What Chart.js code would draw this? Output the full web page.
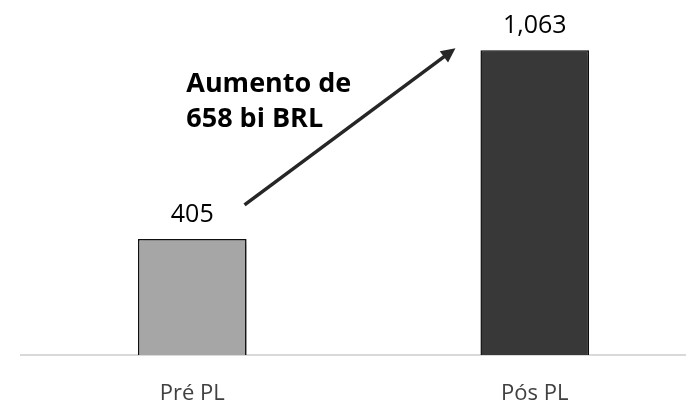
<!DOCTYPE html>
<html>
<head>
<meta charset="utf-8">
<script src="https://cdn.jsdelivr.net/npm/chart.js@4"></script>
<style>
  html, body { margin: 0; padding: 0; background: #fff; }
  #wrap { width: 686px; height: 403px; overflow: hidden; }
</style>
</head>
<body>
<div id="wrap"><canvas id="myChart" width="706" height="403"></canvas></div>
<script>
const categories = ["Pré PL", "Pós PL"];
const values = [405, 1063];
const barColors = ["#a6a6a6", "#383838"];
const annotationLines = ["Aumento de", "658 bi BRL"];

// soft drop shadow behind the bars
const barShadow = {
  id: "barShadow",
  beforeDatasetsDraw(chart) {
    const ctx = chart.ctx;
    ctx.save();
    ctx.shadowColor = "rgba(0,0,0,0.4)";
    ctx.shadowBlur = 6;
    ctx.shadowOffsetX = 4;
    ctx.shadowOffsetY = 2;
  },
  afterDatasetsDraw(chart) {
    chart.ctx.restore();
  }
};

// value labels, arrow and text
const overlay = {
  id: "overlay",
  afterDraw(chart) {
    const ctx = chart.ctx;
    const bars = chart.getDatasetMeta(0).data;
    ctx.save();
    ctx.fillStyle = "#000";
    ctx.font = "25px 'Open Sans'";
    ctx.textAlign = "center";
    ctx.textBaseline = "alphabetic";
    bars.forEach((bar, i) => {
      ctx.fillText(values[i].toLocaleString("en-US"), bar.x, bar.y - 17);
    });

    const b1 = bars[0], b2 = bars[1];
    const x1 = b1.x + b1.width / 2 - 2, y1 = b1.y - 34;
    const x2 = b2.x - b2.width / 2 - 25, y2 = b2.y - 2;
    const ang = Math.atan2(y2 - y1, x2 - x1);
    const head = 16;
    ctx.strokeStyle = "#262626";
    ctx.fillStyle = "#262626";
    ctx.lineWidth = 3.5;
    ctx.beginPath();
    ctx.moveTo(x1, y1);
    ctx.lineTo(x2 - head * 0.8 * Math.cos(ang), y2 - head * 0.8 * Math.sin(ang));
    ctx.stroke();
    ctx.beginPath();
    ctx.moveTo(x2, y2);
    ctx.lineTo(x2 - head * Math.cos(ang - 0.45), y2 - head * Math.sin(ang - 0.45));
    ctx.lineTo(x2 - head * Math.cos(ang + 0.45), y2 - head * Math.sin(ang + 0.45));
    ctx.closePath();
    ctx.fill();

    ctx.fillStyle = "#000";
    ctx.font = "bold 27px 'Open Sans'";
    ctx.textAlign = "left";
    ctx.textBaseline = "alphabetic";
    const top = chart.chartArea.top;
    ctx.fillText(annotationLines[0], b1.x - 6, top + 81);
    ctx.fillText(annotationLines[1], b1.x - 6, top + 116);
    ctx.restore();
  }
};

new Chart(document.getElementById("myChart"), {
  type: "bar",
  data: {
    labels: categories,
    datasets: [{
      data: values,
      backgroundColor: barColors,
      borderColor: "#111",
      borderWidth: 1.5,
      categoryPercentage: 1,
      barPercentage: 0.317
    }]
  },
  options: {
    responsive: false,
    animation: false,
    layout: { padding: { left: 21, top: 11, right: 0, bottom: 0 } },
    plugins: { legend: { display: false }, tooltip: { enabled: false } },
    scales: {
      y: { display: false, min: 0, max: 1200 },
      x: {
        grid: { display: false, drawTicks: false },
        border: { display: true, color: "#d9d9d9", width: 2 },
        ticks: { color: "#404040", font: { family: "'Open Sans'", size: 22 }, padding: 26 },
        afterFit(scale) { scale.height = 48; }
      }
    }
  },
  plugins: [barShadow, overlay]
});
</script>
</body>
</html>
